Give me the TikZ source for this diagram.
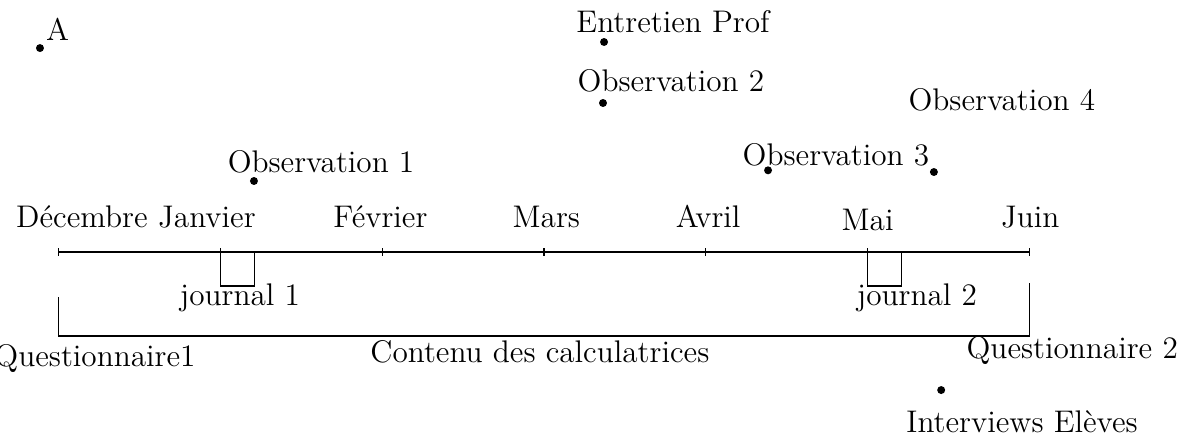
\documentclass[tikz,border=0pt]{standalone}
\usepackage{tikz}
\usetikzlibrary{calc}
\tikzset{evtdot/.style={circle,fill,inner sep=0pt,minimum size=2.8pt},
  lbl/.style={anchor=base,inner sep=0pt,font=\fontsize{11}{13}\selectfont}}

\begin{document}
\begin{tikzpicture}[line width=0.4pt]
  \useasboundingbox (-0.723,-2.336) rectangle (13.936,3.115);
  % axe des mois
  \foreach \k in {0,...,6} \coordinate (m\k) at (2*\k,0);
  \draw (m0) -- (m6);
  \foreach \k in {0,...,6} \draw (m\k) ++(0,0.045) -- ++(0,-0.09);
  \foreach \k/\x/\y/\l in {0/0.29/0.3/Décembre,1/1.835/0.3/Janvier,2/3.98/0.3/Février,3/6.03/0.3/Mars,4/8.03/0.3/Avril,5/10.0/0.27/Mai,6/12.01/0.3/Juin}
    \node[lbl] (mois\k) at (\x,\y) {\l};
  % journaux
  \coordinate (j1) at (2.42,0); \coordinate (j2) at (10.42,0);
  \draw (m1) -- ++(0,-0.42) -| (j1);
  \draw (m5) -- ++(0,-0.42) -| (j2);
  \node[lbl] (jour1) at (2.243,-0.667) {journal 1};
  \node[lbl] (jour2) at (10.61,-0.667) {journal 2};
  % questionnaires
  \coordinate (q1) at (0,-0.556); \coordinate (q2) at (12,-0.383);
  \draw (q1) -- ++(0,-0.482) -| (q2);
  \node[lbl] (quest1) at (0.451,-1.41) {Questionnaire1};
  \node[lbl] (quest2) at (12.53,-1.31) {Questionnaire 2};
  \node[lbl] (contenu) at (5.95,-1.36) {Contenu des calculatrices};
  % evenements
  \foreach \n/\x/\y in {A/-0.229/2.521,ent/6.743/2.596,obs2/6.73/1.842,obs4/10.82/0.989,obs3/8.77/1.01,obs1/2.416/0.878,int/10.91/-1.706}
    \node[evtdot] (d\n) at (\x,\y) {};
  \foreach \n/\x/\y/\l in {A/-0.012/2.62/A,ent/7.595/2.719/Entretien Prof,obs2/7.57/1.978/Observation 2,obs4/11.66/1.755/Observation 4,obs3/9.61/1.075/Observation 3,obs1/3.245/0.989/Observation 1,int/11.91/-2.225/Interviews Elèves}
    \node[lbl] (l\n) at (\x,\y) {\l};
\end{tikzpicture}
\end{document}
